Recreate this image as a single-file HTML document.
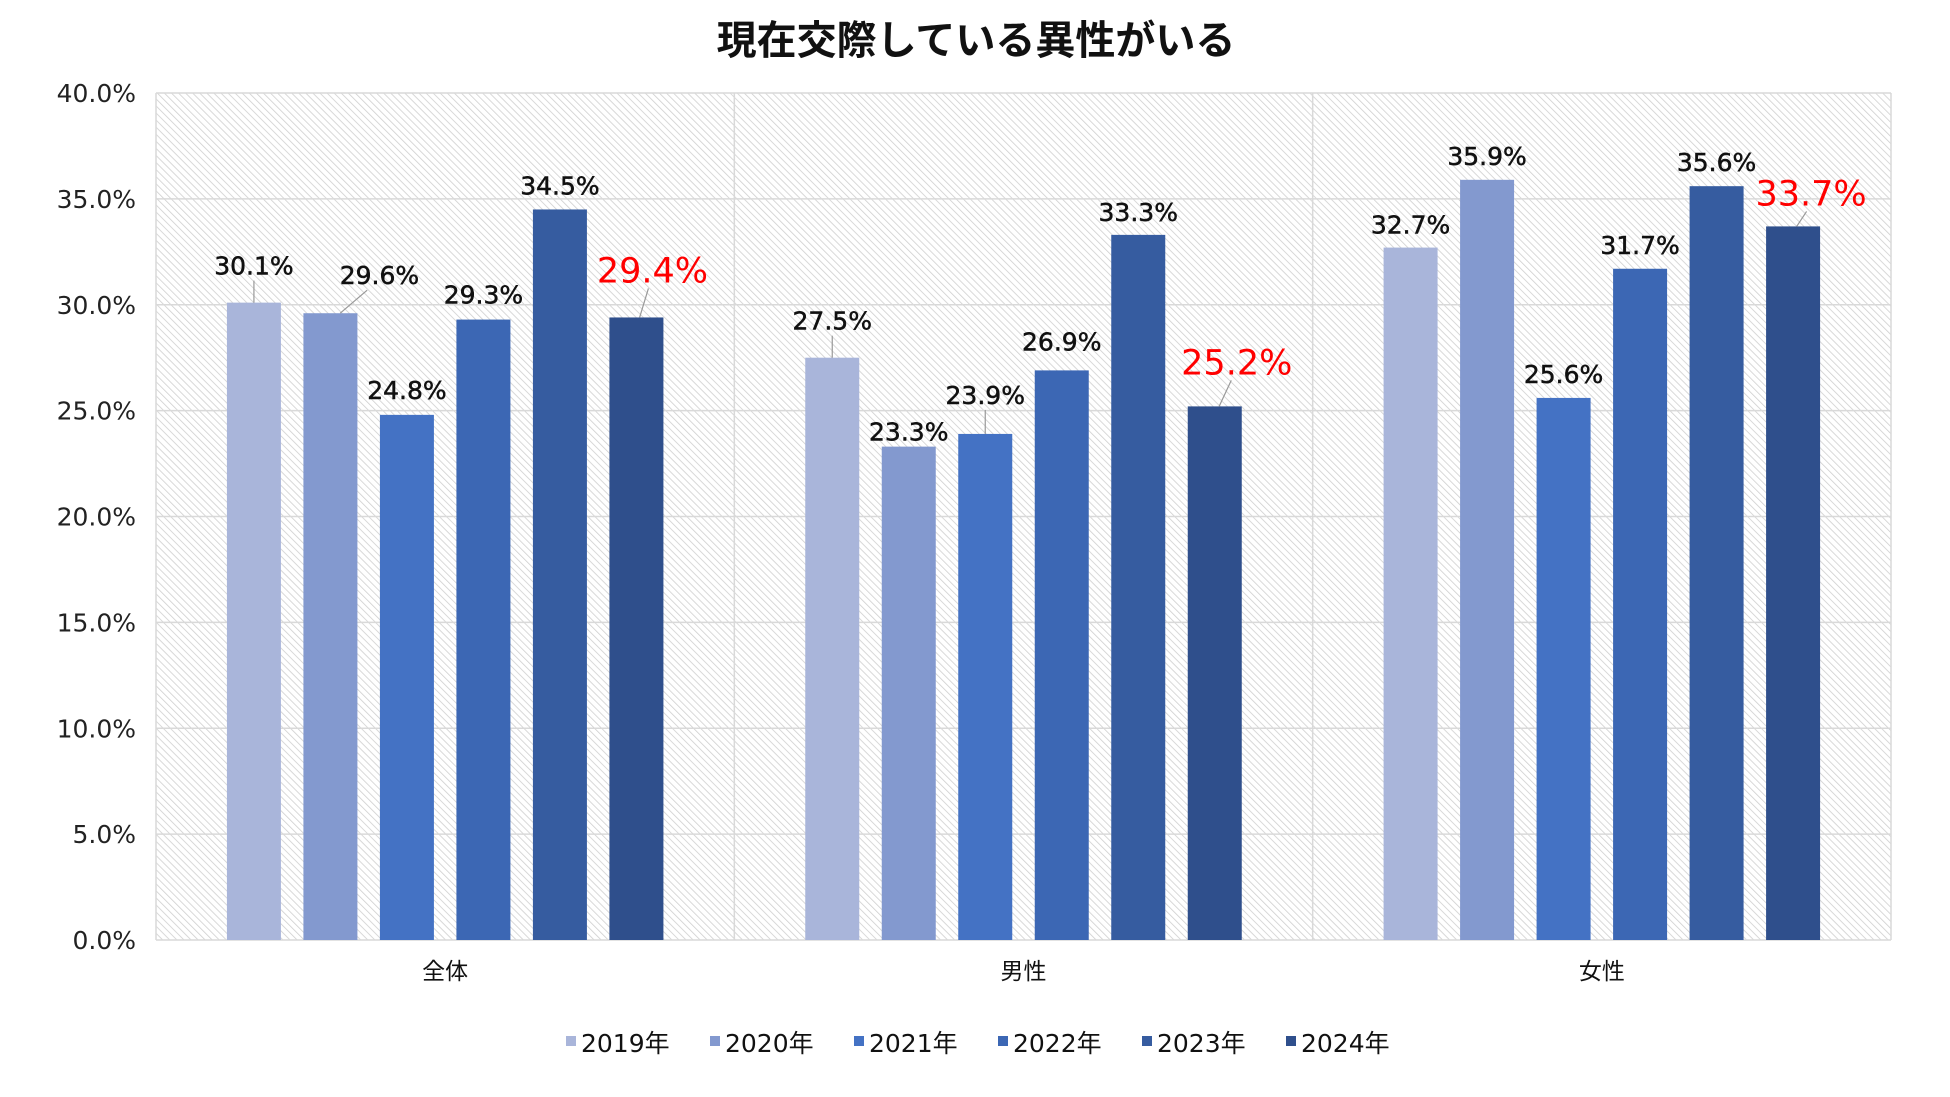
<!DOCTYPE html>
<html><head><meta charset="utf-8"><style>
html,body{margin:0;padding:0;background:#fff;}
svg{display:block;}
text{font-family:"DejaVu Sans","Liberation Sans","Noto Sans CJK JP",sans-serif;}
</style></head><body>
<svg id="chart" width="1950" height="1097" viewBox="0 0 1950 1097" xmlns="http://www.w3.org/2000/svg">
<defs>
<pattern id="hatch" patternUnits="userSpaceOnUse" width="5" height="5" patternTransform="rotate(-45)">
<rect width="5" height="5" fill="#ffffff"/>
<line x1="0" y1="0" x2="0" y2="5" stroke="#cfcfcf" stroke-width="1.6"/>
</pattern>
</defs>
<text x="976" y="54" text-anchor="middle" font-size="40" font-weight="bold" fill="#111" style="font-family:'Noto Sans CJK JP',sans-serif">現在交際している異性がいる</text>
<rect x="156" y="93" width="1735" height="847" fill="url(#hatch)"/>
<g id="grid"></g>
<g id="bars"></g>
<g id="labels"></g>
<g id="legend"></g>
</svg>
<script>
const categories = ["全体", "男性", "女性"];
const seriesNames = ["2019年", "2020年", "2021年", "2022年", "2023年", "2024年"];
const v2019 = [30.1, 27.5, 32.7];
const v2020 = [29.6, 23.3, 35.9];
const v2021 = [24.8, 23.9, 25.6];
const v2022 = [29.3, 26.9, 31.7];
const v2023 = [34.5, 33.3, 35.6];
const v2024 = [29.4, 25.2, 33.7];
const yTicks = [0, 5, 10, 15, 20, 25, 30, 35, 40];

const series = [v2019, v2020, v2021, v2022, v2023, v2024];
const colors = ["#a9b5da", "#8399cf", "#4472c4", "#3c67b4", "#365ca0", "#2f4f8c"];
const offs = [
  [[0,-38],[49,-39],[0,-26],[0,-26],[0,-25],[16,-48]],
  [[0,-38],[0,-16],[0,-40],[0,-30],[0,-24],[22,-45]],
  [[0,-24],[0,-25],[0,-25],[0,-25],[0,-25],[18,-34]]
];
const NS = "http://www.w3.org/2000/svg";
const L = 156, R = 1891, T = 93, B = 940, yMax = 40;
const gW = (R - L) / categories.length, barW = 54, step = 76.5;
function y(v){ return B - v / yMax * (B - T); }
function xCenter(g, s){ return L + g * gW + gW / 2 + (s - 2.5) * step; }
function mk(tag, attrs, parent){ const e = document.createElementNS(NS, tag); for (const k in attrs) e.setAttribute(k, attrs[k]); parent.appendChild(e); return e; }

const grid = document.getElementById('grid');
yTicks.forEach(t => {
  const ln = mk('line', {x1:L, x2:R, y1:y(t), y2:y(t), stroke:'#d9d9d9', 'stroke-width':1.5}, grid);
  
  
  const tx = mk('text', {x:136, y:y(t)+9, 'text-anchor':'end', 'font-size':25, fill:'#222'}, grid);
  tx.textContent = t.toFixed(1) + '%';
  
  
});
for (let g = 0; g <= categories.length; g++) {
  const ln = mk('line', {x1:L+g*gW, x2:L+g*gW, y1:T, y2:B, stroke:'#d9d9d9', 'stroke-width':1.5}, grid);
  
  
}
categories.forEach((c, g) => {
  const tx = mk('text', {x:L+g*gW+gW/2, y:979, 'text-anchor':'middle', 'font-size':23, fill:'#111'}, grid);
  tx.style.fontFamily = "'Noto Sans CJK JP',sans-serif";
  tx.textContent = c;
  
  
});

const bars = document.getElementById('bars'), labels = document.getElementById('labels');
series.forEach((vals, s) => {
  vals.forEach((v, g) => {
    const cx = xCenter(g, s);
    const r = mk('rect', {x:cx-barW/2, y:y(v), width:barW, height:B-y(v), fill:colors[s]}, bars);
    
    
    const o = offs[g][s], red = s === 5;
    const lx = cx + o[0], ly = y(v) + o[1] + (red ? 13 : 10);
    if (Math.abs(o[0]) > 5 || o[1] < -34) {
      const ld = mk('line', {x1:cx + (o[0] ? o[0]*0.2 : 0), y1:y(v), x2:cx + o[0]*0.75, y2:ly+6, stroke:'#999', 'stroke-width':1.2}, labels);
      
      
    }
    const t = mk('text', {x:lx, y:ly, 'text-anchor':'middle', 'font-size':red?35:25, fill:red?'#ff0000':'#111'}, labels);
    if (!red) { t.setAttribute('stroke', '#111'); t.setAttribute('stroke-width', '0.5'); }
    t.textContent = v.toFixed(1) + '%';
    
    
  });
});

const legend = document.getElementById('legend');
seriesNames.forEach((n, s) => {
  const x0 = 566 + s * 144;
  const sq = mk('rect', {x:x0, y:1036, width:10, height:10, fill:colors[s]}, legend);
  
  
  const t = mk('text', {x:x0+15, y:1052, 'font-size':25, fill:'#111'}, legend);
  t.textContent = n;
  
  
});
</script>
</body></html>
